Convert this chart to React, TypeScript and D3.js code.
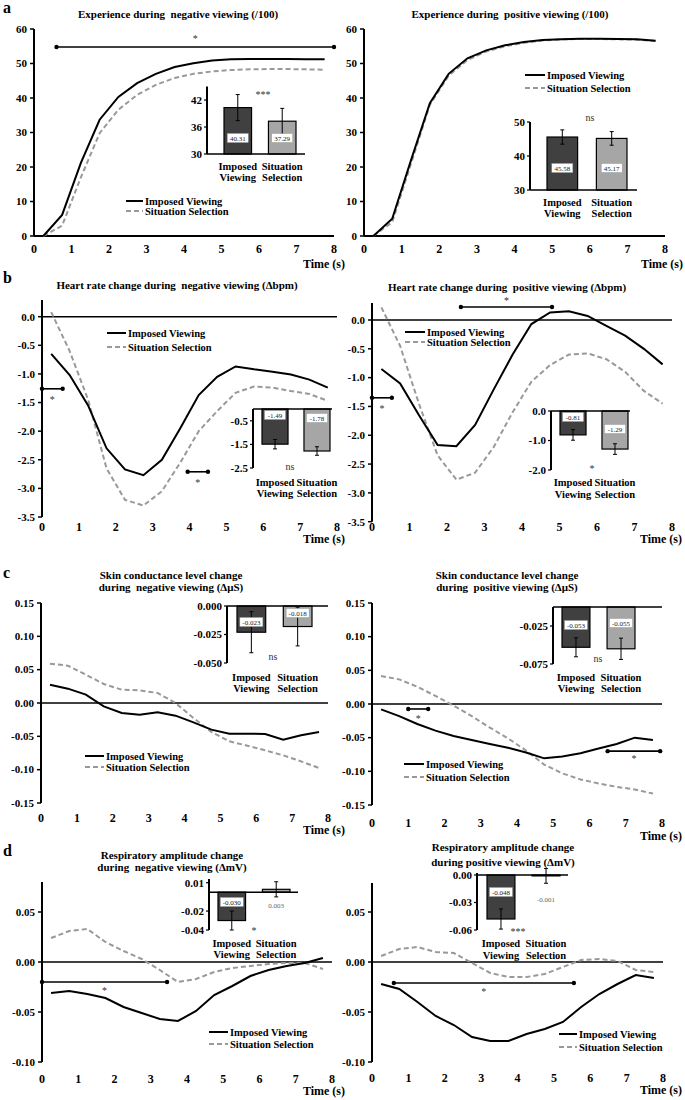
import React from 'react';
import * as d3 from 'd3';

// ---------- DATA ----------
const TIMES = [0.25, 0.75, 1.25, 1.75, 2.25, 2.75, 3.25, 3.75, 4.25, 4.75, 5.25, 5.75, 6.25, 6.75, 7.25, 7.75];
const X_TICKS = [0, 1, 2, 3, 4, 5, 6, 7, 8];
const GROUPS = ['Imposed Viewing', 'Situation Selection'];
const GROUP_LINES = [['Imposed', 'Viewing'], ['Situation', 'Selection']];
const SERIES_NAMES = ['Imposed Viewing', 'Situation Selection'];

// a: experience (/100)
const EXP_NEG_IMPOSED = [0, 6.1, 21.2, 33.7, 40.3, 44.3, 47, 49, 50.1, 50.9, 51.2, 51.3, 51.3, 51.3, 51.2, 51.2];
const EXP_NEG_SITUATION = [0, 3, 17, 29.8, 36.6, 40.9, 43.8, 45.8, 47, 47.7, 48.1, 48.3, 48.4, 48.4, 48.3, 48.2];
const EXP_POS_IMPOSED = [0, 5, 22, 38.5, 47, 51.5, 53.8, 55.3, 56.2, 56.8, 57, 57.2, 57.2, 57.1, 57, 56.6];
const EXP_POS_SITUATION = [0, 4, 21, 38, 46.5, 51, 53.5, 55, 56, 56.7, 57, 57.1, 57.1, 57, 56.9, 56.5];
const EXP_NEG_BARS = [40.31, 37.29];
const EXP_NEG_ERR = [2.9, 2.85];
const EXP_POS_BARS = [45.58, 45.17];
const EXP_POS_ERR = [2.1, 2.0];

// b: heart rate (Δbpm)
const HR_NEG_IMPOSED = [-0.65, -1.02, -1.55, -2.3, -2.67, -2.77, -2.5, -1.95, -1.37, -1.05, -0.87, -0.92, -0.96, -1.01, -1.1, -1.24];
const HR_NEG_SITUATION = [0.08, -0.6, -1.45, -2.65, -3.2, -3.3, -3.05, -2.55, -2.0, -1.65, -1.33, -1.22, -1.24, -1.3, -1.35, -1.47];
const HR_POS_IMPOSED = [-0.85, -1.1, -1.65, -2.17, -2.19, -1.82, -1.2, -0.6, -0.07, 0.13, 0.15, 0.07, -0.1, -0.27, -0.5, -0.77];
const HR_POS_SITUATION = [0.22, -0.45, -1.45, -2.35, -2.77, -2.65, -2.2, -1.6, -1.07, -0.78, -0.6, -0.58, -0.68, -0.9, -1.23, -1.45];
const HR_NEG_BARS = [-1.49, -1.78];
const HR_NEG_ERR = [0.2, 0.18];
const HR_POS_BARS = [-0.81, -1.29];
const HR_POS_ERR = [0.18, 0.18];

// c: skin conductance (ΔμS)
const SC_NEG_IMPOSED = [0.0275, 0.0215, 0.0125, -0.005, -0.015, -0.0175, -0.014, -0.019, -0.029, -0.04, -0.046, -0.046, -0.0465, -0.055, -0.0485, -0.0435];
const SC_NEG_SITUATION = [0.059, 0.056, 0.0425, 0.0285, 0.02, 0.019, 0.015, 0.0, -0.0225, -0.0435, -0.0575, -0.064, -0.071, -0.0785, -0.0875, -0.0975];
const SC_POS_IMPOSED = [-0.008, -0.018, -0.0297, -0.0396, -0.0475, -0.0535, -0.0594, -0.065, -0.072, -0.0807, -0.078, -0.073, -0.066, -0.0594, -0.05, -0.0535];
const SC_POS_SITUATION = [0.0415, 0.0366, 0.0257, 0.012, -0.0025, -0.018, -0.035, -0.051, -0.069, -0.09, -0.103, -0.112, -0.118, -0.123, -0.127, -0.133];
const SC_NEG_BARS = [-0.023, -0.018];
const SC_NEG_ERR = [0.018, 0.017];
const SC_POS_BARS = [-0.053, -0.055];
const SC_POS_ERR = [0.0125, 0.014];

// d: respiratory amplitude (ΔmV)
const RA_NEG_IMPOSED = [-0.031, -0.029, -0.032, -0.036, -0.045, -0.051, -0.057, -0.059, -0.049, -0.033, -0.024, -0.014, -0.008, -0.004, -0.001, 0.004];
const RA_NEG_SITUATION = [0.024, 0.031, 0.033, 0.02, 0.011, 0.003, -0.008, -0.02, -0.017, -0.01, -0.006, -0.004, -0.002, -0.001, -0.001, -0.007];
const RA_POS_IMPOSED = [-0.022, -0.027, -0.04, -0.054, -0.063, -0.075, -0.079, -0.079, -0.072, -0.067, -0.06, -0.045, -0.032, -0.022, -0.013, -0.016];
const RA_POS_SITUATION = [0.006, 0.013, 0.015, 0.01, 0.009, -0.001, -0.011, -0.015, -0.015, -0.012, -0.005, 0.002, 0.003, 0.001, -0.008, -0.01];
const RA_NEG_BARS = [-0.030, 0.003];
const RA_NEG_ERR = [0.01, 0.008];
const RA_POS_BARS = [-0.048, -0.001];
const RA_POS_ERR = [0.011, 0.008];

// ---------- STYLE / LAYOUT ----------
const FONT = "'Liberation Serif', 'Times New Roman', serif";
const BAR_FILLS = ['#404040', '#a6a6a6'];
const DASH_COLOR = '#999999';
const locale = d3.formatLocale({ decimal: '.', thousands: ',', grouping: [3], currency: ['', ''], minus: '-' });

type Sig = { t0: number; t1: number; v: number; dy: number };
type InsetCfg = {
  axisX: number; xEnd: number; yDomain: [number, number]; yRange: [number, number]; axisTopPx?: number;
  ticks: number[]; tickFmt: string; baseline: number; barRange: [number, number];
  values: number[]; errors: number[]; valFmt: string; labelY: number[]; boxed: boolean[];
  sig: { text: string; x: number; y: number }; catY: [number, number];
};
type PanelCfg = {
  letter?: { text: string; x: number; y: number };
  title: string[]; titleX: number; titleY: number; titleDy: number;
  xRange: [number, number]; yDomain: [number, number]; yRange: [number, number];
  axisTop: number; axisBottom: number; yTicks: number[]; yFmt: string; baseStroke: number;
  xLabelY: number; timeX: number; timeY: number;
  imposed: number[]; situation: number[];
  legend: { x0: number; x1: number; tx: number; y: [number, number] };
  sigs: Sig[]; inset: InsetCfg;
};

const PANELS: PanelCfg[] = [
  {
    letter: { text: 'a', x: 3, y: 13 },
    title: ['Experience during  negative viewing (/100)'], titleX: 178, titleY: 18, titleDy: 12,
    xRange: [34, 334], yDomain: [0, 60], yRange: [236, 29], axisTop: 29, axisBottom: 236,
    yTicks: [0, 10, 20, 30, 40, 50, 60], yFmt: 'd', baseStroke: 2,
    xLabelY: 253, timeX: 345, timeY: 268,
    imposed: EXP_NEG_IMPOSED, situation: EXP_NEG_SITUATION,
    legend: { x0: 126, x1: 143, tx: 145, y: [201, 211] },
    sigs: [{ t0: 0.6, t1: 8, v: 54.8, dy: -10 }],
    inset: {
      axisX: 207, xEnd: 305, yDomain: [30, 45], yRange: [154, 86.5], ticks: [30, 36, 42], tickFmt: 'd',
      baseline: 30, barRange: [224, 296], values: EXP_NEG_BARS, errors: EXP_NEG_ERR, valFmt: '.2f',
      labelY: [138, 138], boxed: [true, true], sig: { text: '***', x: 263, y: 98 }, catY: [170, 181],
    },
  },
  {
    title: ['Experience during  positive viewing (/100)'], titleX: 510, titleY: 18, titleDy: 12,
    xRange: [364, 665], yDomain: [0, 60], yRange: [236, 29], axisTop: 29, axisBottom: 236,
    yTicks: [0, 10, 20, 30, 40, 50, 60], yFmt: 'd', baseStroke: 2,
    xLabelY: 253, timeX: 683, timeY: 268,
    imposed: EXP_POS_IMPOSED, situation: EXP_POS_SITUATION,
    legend: { x0: 525, x1: 545, tx: 547, y: [75, 88] },
    sigs: [],
    inset: {
      axisX: 530, xEnd: 637, yDomain: [30, 50], yRange: [190, 122], ticks: [30, 40, 50], tickFmt: 'd',
      baseline: 30, barRange: [547, 627], values: EXP_POS_BARS, errors: EXP_POS_ERR, valFmt: '.2f',
      labelY: [168, 168], boxed: [true, true], sig: { text: 'ns', x: 590, y: 121 }, catY: [206, 217],
    },
  },
  {
    letter: { text: 'b', x: 3, y: 283 },
    title: ['Heart rate change during  negative viewing (Δbpm)'], titleX: 177, titleY: 289, titleDy: 12,
    xRange: [42, 337], yDomain: [-3.5, 0], yRange: [517, 316.7], axisTop: 300, axisBottom: 517,
    yTicks: [0, -0.5, -1, -1.5, -2, -2.5, -3, -3.5], yFmt: '.1f', baseStroke: 1.5,
    xLabelY: 531, timeX: 345, timeY: 543,
    imposed: HR_NEG_IMPOSED, situation: HR_NEG_SITUATION,
    legend: { x0: 107, x1: 126, tx: 128, y: [333, 347] },
    sigs: [{ t0: 0, t1: 0.56, v: -1.26, dy: 9 }, { t0: 3.95, t1: 4.5, v: -2.71, dy: 9 }],
    inset: {
      axisX: 253, xEnd: 332, yDomain: [-2.5, 0], yRange: [468, 409], ticks: [-0.5, -1.5, -2.5], tickFmt: '.1f',
      baseline: 0, barRange: [262, 330], values: HR_NEG_BARS, errors: HR_NEG_ERR, valFmt: '.2f',
      labelY: [415, 418], boxed: [true, true], sig: { text: 'ns', x: 290, y: 470 }, catY: [486, 497],
    },
  },
  {
    title: ['Heart rate change during  positive viewing (Δbpm)'], titleX: 507, titleY: 291, titleDy: 12,
    xRange: [372, 672], yDomain: [-3.5, 0], yRange: [521.7, 320], axisTop: 303, axisBottom: 521.7,
    yTicks: [0, -0.5, -1, -1.5, -2, -2.5, -3, -3.5], yFmt: '.1f', baseStroke: 1.5,
    xLabelY: 531, timeX: 682, timeY: 543,
    imposed: HR_POS_IMPOSED, situation: HR_POS_SITUATION,
    legend: { x0: 405, x1: 425, tx: 427, y: [332, 342] },
    sigs: [{ t0: 2.37, t1: 4.8, v: 0.226, dy: -8 }, { t0: 0, t1: 0.53, v: -1.35, dy: 9 }],
    inset: {
      axisX: 551, xEnd: 630, yDomain: [-2, 0], yRange: [470, 411], ticks: [0, -1, -2], tickFmt: '.1f',
      baseline: 0, barRange: [560, 628], values: HR_POS_BARS, errors: HR_POS_ERR, valFmt: '.2f',
      labelY: [417, 429], boxed: [true, true], sig: { text: '*', x: 592, y: 472 }, catY: [486, 498],
    },
  },
  {
    letter: { text: 'c', x: 3, y: 578 },
    title: ['Skin conductance level change', 'during  negative viewing (ΔμS)'], titleX: 171, titleY: 579, titleDy: 12,
    xRange: [41, 328], yDomain: [-0.15, 0.15], yRange: [803, 603], axisTop: 603, axisBottom: 803,
    yTicks: [0.15, 0.1, 0.05, 0, -0.05, -0.1, -0.15], yFmt: '.2f', baseStroke: 1.5,
    xLabelY: 822, timeX: 345, timeY: 834,
    imposed: SC_NEG_IMPOSED, situation: SC_NEG_SITUATION,
    legend: { x0: 85, x1: 104, tx: 106, y: [756, 767] },
    sigs: [],
    inset: {
      axisX: 227, xEnd: 328, yDomain: [-0.05, 0], yRange: [663, 606], ticks: [0, -0.025, -0.05], tickFmt: '.3f',
      baseline: 0, barRange: [237, 312], values: SC_NEG_BARS, errors: SC_NEG_ERR, valFmt: '.3f',
      labelY: [622, 613], boxed: [true, true], sig: { text: 'ns', x: 273, y: 660 }, catY: [681, 692],
    },
  },
  {
    title: ['Skin conductance level change', 'during  positive viewing (ΔμS)'], titleX: 507, titleY: 579, titleDy: 12,
    xRange: [372, 662], yDomain: [-0.15, 0.15], yRange: [805, 603], axisTop: 603, axisBottom: 805,
    yTicks: [0.15, 0.1, 0.05, 0, -0.05, -0.1, -0.15], yFmt: '.2f', baseStroke: 1.5,
    xLabelY: 827, timeX: 682, timeY: 840,
    imposed: SC_POS_IMPOSED, situation: SC_POS_SITUATION,
    legend: { x0: 404, x1: 424, tx: 426, y: [764, 777] },
    sigs: [{ t0: 1, t1: 1.55, v: -0.0074, dy: 8 }, { t0: 6.5, t1: 7.95, v: -0.07, dy: 6 }],
    inset: {
      axisX: 553, xEnd: 662, yDomain: [-0.075, 0], yRange: [664, 607], ticks: [-0.025, -0.075], tickFmt: '.3f',
      baseline: 0, barRange: [562, 635], values: SC_POS_BARS, errors: SC_POS_ERR, valFmt: '.3f',
      labelY: [625, 623], boxed: [true, true], sig: { text: 'ns', x: 598, y: 662 }, catY: [681, 692],
    },
  },
  {
    letter: { text: 'd', x: 3, y: 856 },
    title: ['Respiratory amplitude change', 'during  negative viewing (ΔmV)'], titleX: 172, titleY: 859, titleDy: 12,
    xRange: [42, 332], yDomain: [-0.1, 0.05], yRange: [1062, 912], axisTop: 882, axisBottom: 1062,
    yTicks: [0.05, 0, -0.05, -0.1], yFmt: '.2f', baseStroke: 1.5,
    xLabelY: 1083, timeX: 345, timeY: 1095,
    imposed: RA_NEG_IMPOSED, situation: RA_NEG_SITUATION,
    legend: { x0: 209, x1: 228, tx: 230, y: [1032, 1044] },
    sigs: [{ t0: 0, t1: 3.45, v: -0.02, dy: 7 }],
    inset: {
      axisX: 209, xEnd: 298, yDomain: [-0.04, 0.01], yRange: [930, 882.7], axisTopPx: 879, ticks: [0.01, -0.02, -0.04], tickFmt: '.2f',
      baseline: 0, barRange: [218, 290], values: RA_NEG_BARS, errors: RA_NEG_ERR, valFmt: '.3f',
      labelY: [902, 905], boxed: [true, false], sig: { text: '*', x: 254, y: 934 }, catY: [947, 958],
    },
  },
  {
    title: ['Respiratory amplitude change', 'during positive viewing (ΔmV)'], titleX: 503, titleY: 851, titleDy: 15,
    xRange: [372, 663], yDomain: [-0.1, 0.05], yRange: [1062, 912], axisTop: 883, axisBottom: 1062,
    yTicks: [0.05, 0, -0.05, -0.1], yFmt: '.2f', baseStroke: 1.5,
    xLabelY: 1082, timeX: 682, timeY: 1094,
    imposed: RA_POS_IMPOSED, situation: RA_POS_SITUATION,
    legend: { x0: 559, x1: 577, tx: 579, y: [1034, 1047] },
    sigs: [{ t0: 0.6, t1: 5.55, v: -0.021, dy: 7 }],
    inset: {
      axisX: 477, xEnd: 568, yDomain: [-0.06, 0], yRange: [930, 875], axisTopPx: 873, ticks: [0, -0.03, -0.06], tickFmt: '.2f',
      baseline: 0, barRange: [487, 560], values: RA_POS_BARS, errors: RA_POS_ERR, valFmt: '.3f',
      labelY: [892, 899], boxed: [true, false], sig: { text: '***', x: 518, y: 935 }, catY: [947, 959],
    },
  },
];

// ---------- COMPONENTS ----------
function Inset({ c }: { c: InsetCfg }) {
  const y = d3.scaleLinear().domain(c.yDomain).range(c.yRange);
  const xb = d3.scaleBand<string>().domain(GROUPS).range(c.barRange).paddingInner(0.38);
  const fmtT = locale.format(c.tickFmt);
  const fmtV = locale.format(c.valFmt);
  const base = y(c.baseline);
  const top = c.axisTopPx ?? y(c.yDomain[1]);
  const bottom = y(c.yDomain[0]);
  const bw = xb.bandwidth();
  return (
    <g>
      {GROUPS.map((g, i) => {
        const v = c.values[i];
        const x0 = xb(g) as number;
        const yv = y(v);
        return (
          <rect key={g} x={x0} y={Math.min(yv, base)} width={bw} height={Math.abs(yv - base)}
            fill={BAR_FILLS[i]} stroke="#000" strokeWidth={1.2} />
        );
      })}
      {GROUPS.map((g, i) => {
        const v = c.values[i];
        const e = c.errors[i];
        const cx = (xb(g) as number) + bw / 2;
        return (
          <g key={g} stroke="#000" strokeWidth={1}>
            <line x1={cx} x2={cx} y1={y(v - e)} y2={y(v + e)} />
            <line x1={cx - 2} x2={cx + 2} y1={y(v - e)} y2={y(v - e)} />
            <line x1={cx - 2} x2={cx + 2} y1={y(v + e)} y2={y(v + e)} />
          </g>
        );
      })}
      {GROUPS.map((g, i) => {
        const cx = (xb(g) as number) + bw / 2;
        const txt = fmtV(c.values[i]);
        const w = txt.length > 5 ? 23 : 21;
        return (
          <g key={g}>
            {c.boxed[i] && <rect x={cx - w / 2} y={c.labelY[i] - 4.5} width={w} height={9} fill="#fff" stroke="#999" strokeWidth={0.5} />}
            <text x={cx} y={c.labelY[i] + 2.5} textAnchor="middle" fontSize={7} fontWeight="normal"
              fill={c.boxed[i] ? '#222' : '#666'}>{txt}</text>
          </g>
        );
      })}
      <line x1={c.axisX} x2={c.axisX} y1={top} y2={bottom} stroke="#000" strokeWidth={2} />
      <line x1={c.axisX} x2={c.xEnd} y1={base} y2={base} stroke="#000" strokeWidth={1.5} />
      {c.ticks.map((t) => (
        <g key={t}>
          <line x1={c.axisX - 3} x2={c.axisX} y1={y(t)} y2={y(t)} stroke="#000" strokeWidth={1.2} />
          <text x={c.axisX - 5} y={y(t) + 3.8} textAnchor="end" fontSize={11}>{fmtT(t)}</text>
        </g>
      ))}
      <text x={c.sig.x} y={c.sig.y} textAnchor="middle" fontSize={10} fontWeight="normal" fill="#333">{c.sig.text}</text>
      {GROUPS.map((g, i) => {
        const cx = (xb(g) as number) + bw / 2;
        return (
          <g key={g}>
            <text x={cx} y={c.catY[0]} textAnchor="middle" fontSize={10.5}>{GROUP_LINES[i][0]}</text>
            <text x={cx} y={c.catY[1]} textAnchor="middle" fontSize={10.5}>{GROUP_LINES[i][1]}</text>
          </g>
        );
      })}
    </g>
  );
}

function Panel({ cfg }: { cfg: PanelCfg }) {
  const x = d3.scaleLinear().domain([0, 8]).range(cfg.xRange);
  const y = d3.scaleLinear().domain(cfg.yDomain).range(cfg.yRange);
  const line = d3.line<number>().x((_, i) => x(TIMES[i])).y((d) => y(d));
  const fmt = locale.format(cfg.yFmt);
  const ax = cfg.xRange[0];
  return (
    <g>
      {cfg.letter && <text x={cfg.letter.x} y={cfg.letter.y} fontSize={16}>{cfg.letter.text}</text>}
      {cfg.title.map((t, i) => (
        <text key={i} x={cfg.titleX} y={cfg.titleY + i * cfg.titleDy} textAnchor="middle" fontSize={11}
          style={{ whiteSpace: 'pre' }}>{t}</text>
      ))}
      <line x1={ax} x2={x(8)} y1={y(0)} y2={y(0)} stroke="#000" strokeWidth={cfg.baseStroke} />
      <line x1={ax} x2={ax} y1={cfg.axisTop} y2={cfg.axisBottom} stroke="#000" strokeWidth={2} />
      {cfg.yTicks.map((t) => (
        <g key={t}>
          <line x1={ax - 4} x2={ax} y1={y(t)} y2={y(t)} stroke="#000" strokeWidth={1.5} />
          <text x={ax - 7} y={y(t) + 3.8} textAnchor="end" fontSize={11}>{fmt(t)}</text>
        </g>
      ))}
      {X_TICKS.map((t) => (
        <text key={t} x={x(t)} y={cfg.xLabelY} textAnchor="middle" fontSize={12}>{t}</text>
      ))}
      <text x={cfg.timeX} y={cfg.timeY} textAnchor="end" fontSize={12}>Time (s)</text>
      <path d={line(cfg.situation) as string} fill="none" stroke={DASH_COLOR} strokeWidth={2} strokeDasharray="5,3" />
      <path d={line(cfg.imposed) as string} fill="none" stroke="#000" strokeWidth={2} />
      {cfg.sigs.map((s, i) => {
        const x0 = x(s.t0), x1 = x(s.t1), yy = y(s.v);
        return (
          <g key={i}>
            <line x1={x0} x2={x1} y1={yy} y2={yy} stroke="#000" strokeWidth={1.6} />
            <circle cx={x0} cy={yy} r={2.2} fill="#000" />
            <circle cx={x1} cy={yy} r={2.2} fill="#000" />
            <text x={(x0 + x1) / 2} y={yy + s.dy + 5} textAnchor="middle" fontSize={10} fontWeight="normal" fill="#333">*</text>
          </g>
        );
      })}
      {SERIES_NAMES.map((n, i) => (
        <g key={n}>
          <line x1={cfg.legend.x0} x2={cfg.legend.x1} y1={cfg.legend.y[i]} y2={cfg.legend.y[i]}
            stroke={i === 0 ? '#000' : DASH_COLOR} strokeWidth={2} strokeDasharray={i === 0 ? undefined : '5,3'} />
          <text x={cfg.legend.tx} y={cfg.legend.y[i] + 3.6} fontSize={10.5}>{n}</text>
        </g>
      ))}
      <Inset c={cfg.inset} />
    </g>
  );
}

export default function App() {
  return (
    <svg width={685} height={1100} viewBox="0 0 685 1100"
      style={{ position: 'absolute', left: 0, top: 0, background: '#fff', display: 'block' }}
      fontFamily={FONT} fontWeight="bold">
      <rect x={0} y={0} width={685} height={1100} fill="#fff" />
      {PANELS.map((p, i) => <Panel key={i} cfg={p} />)}
    </svg>
  );
}
